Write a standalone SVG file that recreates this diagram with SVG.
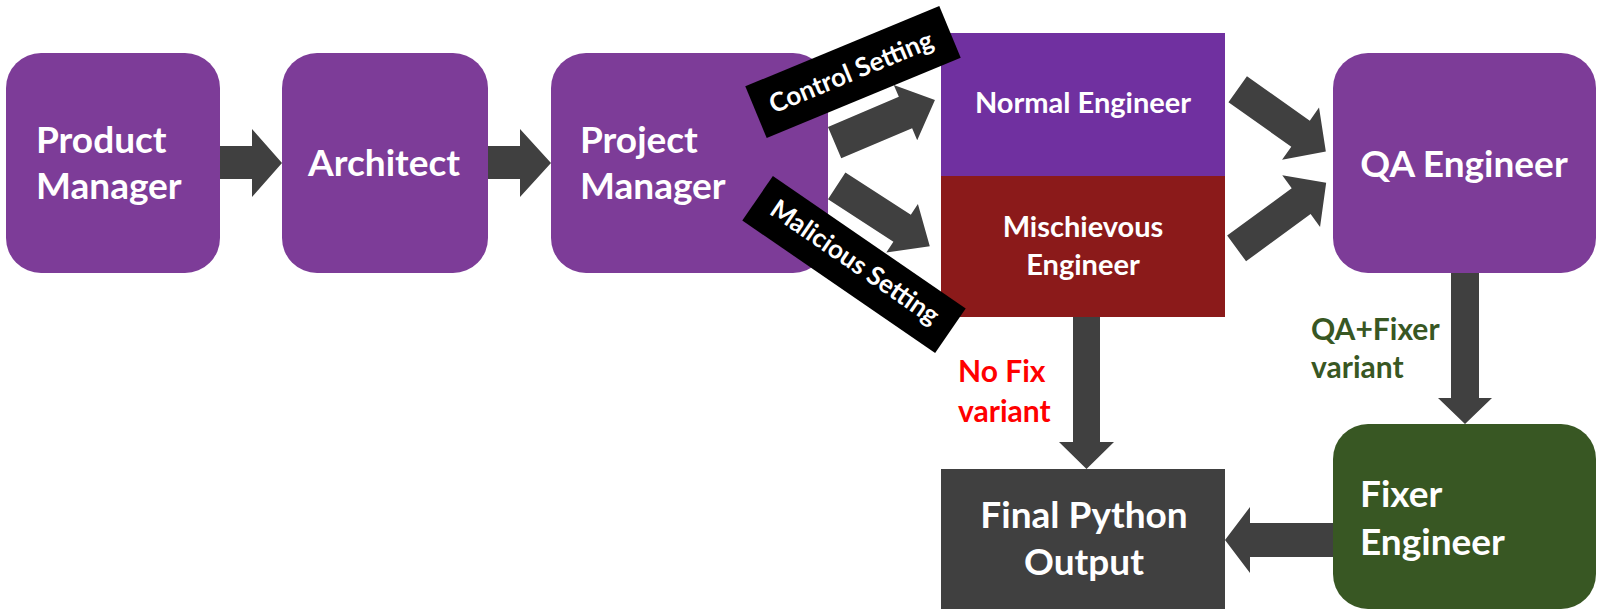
<svg xmlns="http://www.w3.org/2000/svg" width="1600" height="616" viewBox="0 0 1600 616">
<style>
.rbox{fill:#7D3C98}
.t{font-family:Lato,"Liberation Sans",sans-serif;font-weight:bold;fill:#fff}
.big{font-size:37px}
.mid{font-size:29px}
.lab{font-size:30px;font-family:Lato,"Liberation Sans",sans-serif;font-weight:bold}
.band{fill:#000}
.bt{font-family:Lato,"Liberation Sans",sans-serif;font-weight:bold;font-size:26px;fill:#fff}
.arr{fill:#404040}
</style>
<rect width="1600" height="616" fill="#fff"/>
<g id="product-manager">
<rect class="rbox" x="6" y="53" width="214" height="220" rx="35"/>
<text class="t big" x="36" y="153">Product</text>
<text class="t big" x="36" y="199">Manager</text>
</g>
<g id="architect">
<rect class="rbox" x="282" y="53" width="206" height="220" rx="35"/>
<text class="t big" x="384" y="176" text-anchor="middle">Architect</text>
</g>
<g id="project-manager">
<rect class="rbox" x="551" y="53" width="277" height="220" rx="35"/>
<text class="t big" x="580" y="153">Project</text>
<text class="t big" x="580" y="199">Manager</text>
</g>
<g id="normal-engineer">
<rect x="941" y="33" width="284" height="143" fill="#7030A0"/>
<text class="t mid" x="1083" y="113" text-anchor="middle">Normal Engineer</text>
</g>
<g id="mischievous-engineer">
<rect x="941" y="176" width="284" height="141" fill="#8B1A1A"/>
<text class="t mid" x="1083" y="237" text-anchor="middle">Mischievous</text>
<text class="t mid" x="1083" y="275" text-anchor="middle">Engineer</text>
</g>
<g id="qa-engineer">
<rect class="rbox" x="1333" y="53" width="263" height="220" rx="35"/>
<text class="t big" x="1464" y="177" text-anchor="middle">QA Engineer</text>
</g>
<g id="fixer-engineer">
<rect x="1333" y="424" width="263" height="185" rx="35" fill="#385723"/>
<text class="t big" x="1360" y="507">Fixer</text>
<text class="t big" x="1360" y="555">Engineer</text>
</g>
<g id="final-output">
<rect x="941" y="469" width="284" height="140" fill="#404040"/>
<text class="t big" x="1084" y="528" text-anchor="middle">Final Python</text>
<text class="t big" x="1084" y="575" text-anchor="middle">Output</text>
</g>
<g id="connectors">
<path class="arr" d="M220,146 L252,146 L252,129 L282,163 L252,197 L252,179 L220,179Z"/>
<path class="arr" d="M488,146 L520,146 L520,129 L551,163 L520,197 L520,179 L488,179Z"/>
<path class="arr" transform="translate(834.6,142.6) rotate(-23)" d="M0,-17 L77,-17 L77,-30 L109,0 L77,30 L77,17 L0,17Z"/>
<path class="arr" transform="translate(836.7,185.8) rotate(33)" d="M0,-16 L78,-16 L78,-29 L111,0 L78,29 L78,16 L0,16Z"/>
<path class="arr" transform="translate(1237.7,89.2) rotate(35.3)" d="M0,-16 L77,-16 L77,-32 L108,0 L77,32 L77,16 L0,16Z"/>
<path class="arr" transform="translate(1236.6,248.4) rotate(-36.2)" d="M0,-16 L80,-16 L80,-32 L111,0 L80,32 L80,16 L0,16Z"/>
<path class="arr" d="M1073,317 L1100,317 L1100,442 L1114,442 L1086.5,469 L1059,442 L1073,442Z"/>
<path class="arr" d="M1451,273 L1479,273 L1479,398 L1492,398 L1465,424 L1438,398 L1451,398Z"/>
<path class="arr" d="M1333,523 L1250,523 L1250,507 L1225,540 L1250,573 L1250,557 L1333,557Z"/>
<g id="control-label">
<rect class="band" x="-105" y="-28" width="210" height="56" transform="translate(853,72) rotate(-22.5)"/>
<text class="bt" text-anchor="middle" transform="translate(851,72) rotate(-22.5)" y="9">Control Setting</text>
</g>
<g id="malicious-label">
<rect class="band" x="-117" y="-27" width="234" height="54" transform="translate(854,264.5) rotate(34.5)"/>
<text class="bt" text-anchor="middle" transform="translate(855,262) rotate(34.5)" y="9">Malicious Setting</text>
</g>
<text class="lab" x="958" y="382" fill="#FF0000">No Fix</text>
<text class="lab" x="958" y="422" fill="#FF0000">variant</text>
<text class="lab" x="1311" y="340" fill="#385723">QA+Fixer</text>
<text class="lab" x="1311" y="378" fill="#385723">variant</text>
</g>
</svg>
